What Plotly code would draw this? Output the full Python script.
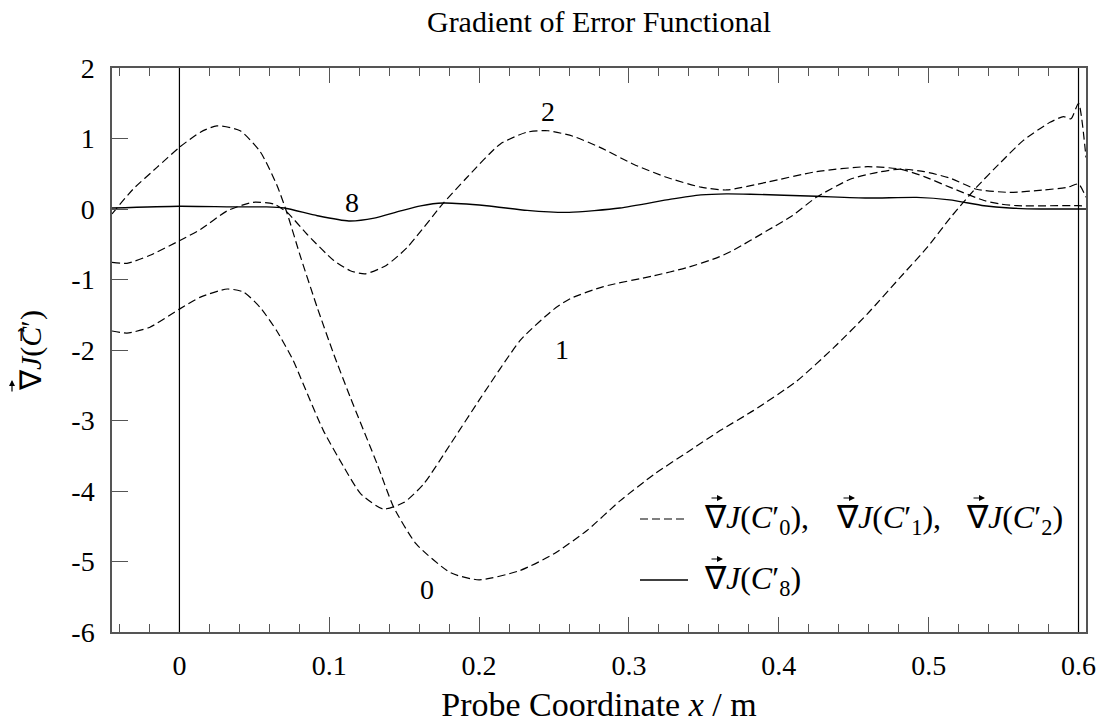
import plotly.graph_objects as go

# Gradient of the error functional for successive iterates C'_0, C'_1, C'_2, C'_8
x0 = [-0.045, -0.031, -0.015, 0.0, 0.014, 0.025, 0.0405, 0.054, 0.065, 0.072, 0.081, 0.092,
      0.103, 0.114, 0.132, 0.143, 0.158, 0.181, 0.200, 0.227, 0.250, 0.272, 0.294, 0.317,
      0.339, 0.361, 0.383, 0.412, 0.437, 0.459, 0.481, 0.499, 0.515, 0.532, 0.548, 0.563,
      0.581, 0.590, 0.595, 0.600, 0.605]
y0 = [-0.07, 0.28, 0.59, 0.875, 1.09, 1.18, 1.11, 0.81, 0.34, -0.07, -0.69, -1.40,
      -2.06, -2.67, -3.62, -4.23, -4.75, -5.16, -5.26, -5.13, -4.89, -4.56, -4.14, -3.76,
      -3.45, -3.14, -2.86, -2.44, -1.96, -1.49, -0.97, -0.545, -0.11, 0.31, 0.66, 0.97,
      1.23, 1.31, 1.28, 1.50, 0.73]

x1 = [-0.045, -0.035, -0.020, 0.0, 0.014, 0.032, 0.043, 0.054, 0.065, 0.076, 0.081, 0.096,
      0.110, 0.121, 0.136, 0.150, 0.163, 0.181, 0.201, 0.228, 0.250, 0.261, 0.283, 0.316,
      0.339, 0.359, 0.370, 0.392, 0.409, 0.425, 0.448, 0.466, 0.481, 0.497, 0.514, 0.532,
      0.554, 0.577, 0.593, 0.600, 0.605]
y1 = [-1.73, -1.76, -1.68, -1.42, -1.25, -1.135, -1.18, -1.40, -1.73, -2.15, -2.40, -3.14,
      -3.67, -4.04, -4.255, -4.16, -3.90, -3.33, -2.68, -1.85, -1.42, -1.27, -1.10, -0.95,
      -0.83, -0.69, -0.58, -0.31, -0.095, 0.165, 0.425, 0.52, 0.567, 0.53, 0.44, 0.28,
      0.236, 0.27, 0.31, 0.355, 0.165]

x2 = [-0.045, -0.035, -0.020, 0.0, 0.014, 0.032, 0.049, 0.063, 0.072, 0.085, 0.103, 0.114,
      0.124, 0.138, 0.152, 0.176, 0.192, 0.214, 0.232, 0.246, 0.263, 0.281, 0.303, 0.325,
      0.348, 0.365, 0.392, 0.425, 0.459, 0.481, 0.497, 0.514, 0.537, 0.548, 0.559, 0.600,
      0.605]
y2 = [-0.757, -0.77, -0.66, -0.45, -0.29, -0.025, 0.095, 0.07, -0.05, -0.355, -0.73, -0.875,
      -0.92, -0.80, -0.545, 0.08, 0.45, 0.92, 1.09, 1.11, 1.03, 0.87, 0.635, 0.45,
      0.31, 0.27, 0.38, 0.53, 0.60, 0.567, 0.46, 0.31, 0.12, 0.07, 0.047, 0.047,
      0.04]

x8 = [-0.045, 0.0, 0.036, 0.058, 0.070, 0.092, 0.113, 0.130, 0.147, 0.161, 0.176, 0.205,
      0.232, 0.260, 0.294, 0.328, 0.348, 0.365, 0.381, 0.425, 0.459, 0.492, 0.514, 0.537,
      0.554, 0.575, 0.605]
y8 = [0.014, 0.04, 0.03, 0.03, 0.014, -0.095, -0.17, -0.13, -0.03, 0.045, 0.085, 0.047,
      -0.02, -0.048, 0.014, 0.14, 0.20, 0.215, 0.21, 0.18, 0.155, 0.165, 0.13, 0.047,
      0.014, 0.0, 0.0]

# iteration labels placed next to their curves
label_text = ["0", "1", "2", "8"]
label_x = [0.165, 0.255, 0.246, 0.115]
label_y = [-5.39, -1.99, 1.39, 0.094]

# probe ends
probe_bounds = [0.0, 0.6]

x_ticks = [0, 0.1, 0.2, 0.3, 0.4, 0.5, 0.6]
x_ticktext = ["0", "0.1", "0.2", "0.3", "0.4", "0.5", "0.6"]
y_ticks = [-6, -5, -4, -3, -2, -1, 0, 1, 2]
y_ticktext = ["-6", "-5", "-4", "-3", "-2", "-1", "0", "1", "2"]

FONT = "Liberation Serif"
FS = 28
KEY_FS = 32
W, H = 1109, 728
ML, MR, MT, MB = 112, 23, 68, 96
PW, PH = W - ML - MR, H - MT - MB


def px(x):
    return (x - ML) / PW


def py(y):
    return (H - MB - y) / PH


def grad(sub):
    return f"\u2207<i>J</i>(<i>C</i>\u2032<sub>{sub}</sub>)"


def vec_arrow(fig, x, y, dx, dy):
    """Small vector arrow drawn over a nabla, head at (x, y) in pixels."""
    fig.add_annotation(xref="paper", yref="paper", x=px(x), y=py(y), ax=-dx, ay=dy,
                       text="", showarrow=True, arrowhead=2, arrowsize=1.0,
                       arrowwidth=1.2, arrowcolor="black")


fig = go.Figure()
dash_line = dict(color="black", width=1.2, dash="8px,4px", shape="spline", smoothing=0.6)
solid_line = dict(color="black", width=1.4, shape="spline", smoothing=0.6)

for xs, ys in [(x0, y0), (x1, y1), (x2, y2)]:
    fig.add_trace(go.Scatter(x=xs, y=ys, mode="lines", line=dash_line,
                             showlegend=False, hoverinfo="skip"))
fig.add_trace(go.Scatter(x=x8, y=y8, mode="lines", line=solid_line,
                         showlegend=False, hoverinfo="skip"))

for xb in probe_bounds:
    fig.add_shape(type="line", x0=xb, x1=xb, xref="x", y0=0, y1=1, yref="paper",
                  line=dict(color="black", width=1.2))

for t, lx, ly in zip(label_text, label_x, label_y):
    fig.add_annotation(x=lx, y=ly, text=t, showarrow=False,
                       font=dict(family=FONT, size=FS, color="black"))

# key: sample line, then the gradient symbols with their vector arrows
key_rows = [
    (519, dict(color="black", width=1.2, dash="8px,4px"), [(702, "0", ","), (834, "1", ","), (964, "2", "")]),
    (580, dict(color="black", width=1.4), [(702, "8", "")]),
]
for row_y, line_style, items in key_rows:
    fig.add_shape(type="line", xref="paper", yref="paper", x0=px(640), x1=px(688),
                  y0=py(row_y), y1=py(row_y), line=line_style)
    for item_x, sub, tail in items:
        fig.add_annotation(xref="paper", yref="paper", x=px(item_x), y=py(row_y),
                           xanchor="left", yanchor="middle", showarrow=False,
                           text=grad(sub) + tail,
                           font=dict(family=FONT, size=KEY_FS, color="black"))
        vec_arrow(fig, item_x + 21, row_y - 21, 13, 0)

# vertical axis title, written bottom to top
fig.add_annotation(xref="paper", yref="paper", x=px(31), y=py(351), xanchor="center",
                   yanchor="middle", showarrow=False, textangle=-90,
                   text="\u2207<i>J</i>(<i>C</i>\u20d7\u2032)",
                   font=dict(family=FONT, size=30, color="black"))
vec_arrow(fig, 12, 380, 0, 13)

axis_color = "#555555"
fig.update_layout(
    width=W, height=H,
    margin=dict(l=ML, r=MR, t=MT, b=MB),
    paper_bgcolor="white", plot_bgcolor="white",
    font=dict(family=FONT, size=FS, color="black"),
    title=dict(text="Gradient of Error Functional", x=0.5, xref="paper",
               xanchor="center", y=0.97, yanchor="middle",
               font=dict(family=FONT, size=30)),
    showlegend=False,
    xaxis=dict(range=[-0.045, 0.605], tickvals=x_ticks, ticktext=x_ticktext,
               ticks="inside", ticklen=15, tickcolor=axis_color, tickwidth=1,
               minor=dict(dtick=0.02, tick0=0, ticks="inside", ticklen=8,
                          tickcolor=axis_color, tickwidth=1),
               showline=True, linecolor=axis_color, linewidth=1.5, mirror="ticks",
               showgrid=False, zeroline=False, ticklabelstandoff=8,
               title=dict(text="Probe Coordinate <i>x</i> / m", standoff=12)),
    yaxis=dict(range=[-6, 2], tickvals=y_ticks, ticktext=y_ticktext,
               ticks="inside", ticklen=16, tickcolor=axis_color, tickwidth=1,
               showline=True, linecolor=axis_color, linewidth=1.5, mirror=True,
               showgrid=False, zeroline=False, ticklabelstandoff=10),
)

fig.write_html("out.html")
